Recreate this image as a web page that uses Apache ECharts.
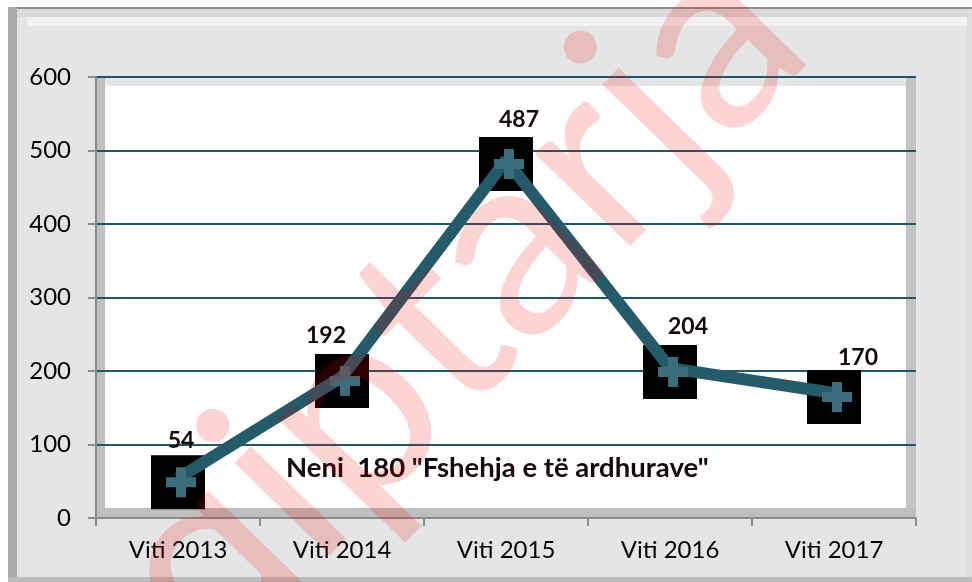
<!DOCTYPE html>
<html lang="sq">
<head>
    <meta charset="UTF-8">
    <script src="https://cdn.jsdelivr.net/npm/echarts@6/dist/echarts.min.js"></script>
    <style>
        html, body { margin: 0; padding: 0; background: #ffffff; }
        #chart { width: 972px; height: 582px; }
    </style>
</head>
<body>
<div id="chart"></div>
<script type="text/javascript">
    const categories = ['Viti 2013', 'Viti 2014', 'Viti 2015', 'Viti 2016', 'Viti 2017'];
    const values = [54, 192, 487, 204, 170];
    const titleText = 'Neni  180 "Fshehja e të ardhurave"';

    // where each value label sits relative to its point
    const labelShift = [[0, -42], [-19, -45], [10, -44], [15, -45], [21, -39]];

    const chart = echarts.init(document.getElementById('chart'));
    const font = 'Lato';
    const plus = 'path://M10,0H20V10H30V20H20V30H10V20H0V10H10Z';

    function rect(x, y, w, h, color) {
        return { type: 'rect', z: -10, shape: { x: x, y: y, width: w, height: h }, style: { fill: color }, silent: true };
    }

    chart.setOption({
        animation: false,
        backgroundColor: '#ffffff',
        title: {
            text: titleText,
            left: 281,
            top: 449,
            textStyle: { fontFamily: font, fontWeight: 'bold', fontSize: 27.5, color: '#140808' }
        },
        graphic: [
            rect(8, 7, 964, 575, '#e5e5e5'),
            rect(8, 7, 964, 2, '#8e8e8e'),
            rect(17, 9, 955, 8, '#dadada'),
            rect(27, 17, 940, 9, '#f2f2f2'),
            rect(8, 7, 9, 575, '#aaaaaa'),
            rect(8, 577, 964, 5, '#bdbdbd'),
            rect(967, 9, 5, 568, '#dedede'),
            rect(96, 77, 820, 441, '#ffffff'),
            rect(96, 77, 820, 9, '#e6e6e6'),
            rect(96, 77, 9, 441, '#bfbfbf'),
            rect(906, 77, 10, 441, '#c4c4c4'),
            rect(96, 508, 820, 10, '#bfbfbf'),
            {
                type: 'text',
                z: 100,
                silent: true,
                x: 365,
                y: 398,
                rotation: 0.8,
                style: {
                    text: 'shqiptarja',
                    fontFamily: font,
                    fontSize: 262,
                    fill: 'rgba(240, 0, 0, 0.17)',
                    align: 'center',
                    verticalAlign: 'middle'
                }
            }
        ],
        grid: { left: 96, right: 56, top: 77, bottom: 64 },
        xAxis: {
            type: 'category',
            data: categories,
            boundaryGap: true,
            axisLine: { lineStyle: { color: '#8c8c8c', width: 2 } },
            axisTick: { show: true, length: 8, lineStyle: { color: '#8c8c8c', width: 2 } },
            axisLabel: { fontFamily: font, fontSize: 24, color: '#000000', margin: 20 }
        },
        yAxis: {
            type: 'value',
            min: 0,
            max: 600,
            interval: 100,
            axisLine: { show: true, lineStyle: { color: '#8c8c8c', width: 2 } },
            axisTick: { show: true, length: 8, lineStyle: { color: '#8c8c8c', width: 2 } },
            axisLabel: { fontFamily: font, fontSize: 24, color: '#000000', margin: 25 },
            splitLine: { lineStyle: { color: '#215868', width: 2 } }
        },
        series: [
            {
                type: 'scatter',
                data: values,
                symbol: 'rect',
                symbolSize: 54,
                symbolOffset: [0, 4],
                itemStyle: { color: '#000000', opacity: 1 },
                emphasis: { disabled: true },
                z: 2
            },
            {
                type: 'line',
                data: values.map(function (v, i) {
                    return { value: v, label: { offset: labelShift[i] } };
                }),
                symbol: plus,
                symbolSize: 30,
                symbolOffset: [3, 4],
                showAllSymbol: true,
                itemStyle: { color: '#3b6d7a', opacity: 1 },
                lineStyle: { color: '#245a69', width: 12 },
                label: {
                    show: true,
                    position: 'inside',
                    fontFamily: font,
                    fontWeight: 'bold',
                    fontSize: 23,
                    color: '#140808'
                },
                emphasis: { disabled: true },
                z: 3
            }
        ]
    });
</script>
</body>
</html>
